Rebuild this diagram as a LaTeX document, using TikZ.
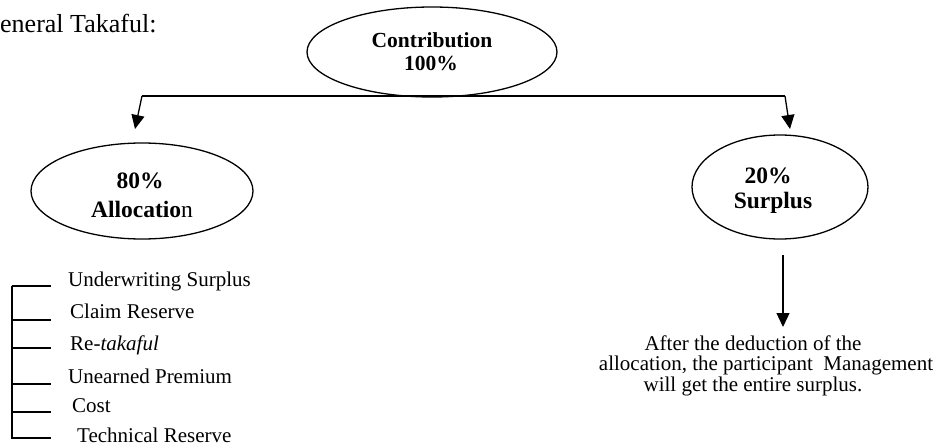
\documentclass[tikz,border=0pt]{standalone}
\usepackage{fontspec}
\setmainfont{Liberation Serif}
\usetikzlibrary{shapes.geometric,arrows.meta}
\begin{document}
\begin{tikzpicture}[x=1pt,y=-1pt,
  oval/.style={draw,ellipse,line width=1.3pt,inner sep=0pt},
  txt/.style={inner sep=0pt,font=\fontsize{21}{23}\selectfont},
  btxt/.style={inner sep=0pt,anchor=base,font=\fontsize{21.5}{23}\selectfont\bfseries},
  bbtxt/.style={inner sep=0pt,anchor=base,font=\fontsize{23.5}{25}\selectfont\bfseries},
  conn/.style={line width=1.3pt},
  arr/.style={line width=1.3pt,-{Triangle[length=14pt,width=13pt]}}]
\useasboundingbox (0,0) rectangle (938,447);
% title
\node[txt,anchor=base west,font=\fontsize{26}{28}\selectfont] (title) at (0,32) {eneral Takaful:};
% ellipses
\node[oval,minimum width=250pt,minimum height=90pt] (contrib) at (432,52) {};
\node[btxt] (c1) at (432,47) {Contribution};
\node[btxt] (c2) at (431,70) {100\%};
\node[oval,minimum width=222pt,minimum height=96pt] (alloc) at (142,191) {};
\node[bbtxt] (a1) at (140,188) {80\%};
\node[bbtxt] (a2) at (142,217) {Allocatio\textmd{n}};
\node[oval,minimum width=176pt,minimum height=104pt] (surplus) at (780,187) {};
\node[bbtxt] (s1) at (768,183) {20\%};
\node[bbtxt] (s2) at (773,208) {Surplus};
% connectors
\coordinate (hl) at (142,96);
\coordinate (hr) at (785,96);
\coordinate (tl) at (135,129);
\coordinate (tr) at (790,129);
\draw[conn] (hl) -- (hr);
\draw[arr] (hl) -- (tl);
\draw[arr] (hr) -- (tr);
\coordinate (ds) at (783,255);
\coordinate (de) at (783,327);
\draw[arr] (ds) -- (de);
% right note
\node[txt,anchor=base] (n1) at (753,350) {After the deduction of the};
\node[txt,anchor=base] (n2) at (766,370) {allocation, the participant\ \ Management};
\node[txt,anchor=base] (n3) at (753,391) {will get the entire surplus.};
% list
\coordinate (b0) at (12,286);
\coordinate (b5) at (12,438);
\coordinate (b6) at (51,438);
\draw[conn] (b0) -- (b5) -- (b6);
\foreach \y in {286,320,348,384,412} \draw[conn] (12,\y) -- (51,\y);
\node[txt,anchor=base west] (l1) at (68,286) {Underwriting Surplus};
\node[txt,anchor=base west] (l2) at (70,318) {Claim Reserve};
\node[txt,anchor=base west] (l3) at (70,350) {Re-\textit{takaful}};
\node[txt,anchor=base west] (l4) at (68,383) {Unearned Premium};
\node[txt,anchor=base west] (l5) at (72,412) {Cost};
\node[txt,anchor=base west] (l6) at (77,442) {Technical Reserve};
\end{tikzpicture}
\end{document}
